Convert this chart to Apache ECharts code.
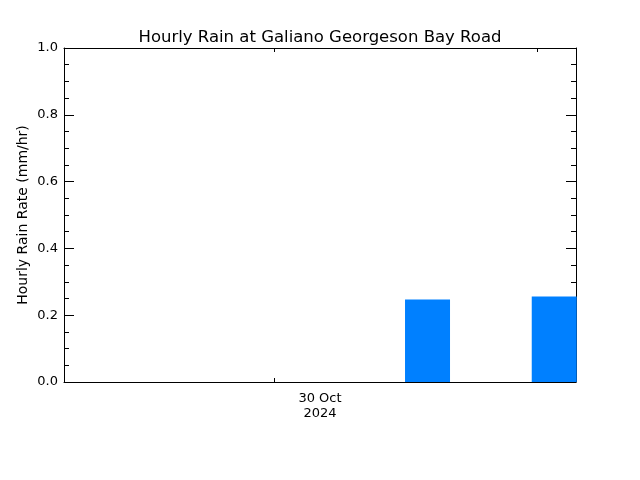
<!DOCTYPE html>
<html>
<head>
<meta charset="utf-8">
<script src="https://cdn.jsdelivr.net/npm/echarts@6/dist/echarts.min.js"></script>
<style>html,body{margin:0;padding:0;background:#fff}#c{width:640px;height:480px}</style>
</head>
<body>
<div id="c"></div>
<script>
// x in hours relative to 2024-10-30 00:00
const titleText = "Hourly Rain at Galiano Georgeson Bay Road";
const yName = "Hourly Rain Rate (mm/hr)";
const xRange = [-2.0, 2.0];
const barHours = [0.84, 1.83];
const rainValues = [0.247, 0.256];
const xTickHours = [-0.36, 1.70];
const xLabelHours = [0];
const xLabelText = "30 Oct\n2024";
const yTicks = [0, 0.2, 0.4, 0.6, 0.8, 1.0];

const font = "DejaVu Sans";
const chart = echarts.init(document.getElementById('c'), null, {renderer: 'canvas'});
const axisLine = {show: true, onZero: false, lineStyle: {color: '#000', width: 1}};
const xCommon = {
  type: 'value', min: xRange[0], max: xRange[1],
  axisLine: axisLine, splitLine: {show: false},
  axisTick: {show: true, inside: true, length: 4, customValues: xTickHours, lineStyle: {color: '#000'}},
  minorTick: {show: false}
};
const yCommon = {
  type: 'value', min: 0, max: 1, interval: 0.2,
  axisLine: axisLine, splitLine: {show: false},
  axisTick: {show: true, inside: true, length: 10, lineStyle: {color: '#000'}},
  minorTick: {show: true, splitNumber: 4, length: 5, lineStyle: {color: '#000'}},
  minorSplitLine: {show: false}
};
chart.setOption({
  animation: false,
  backgroundColor: '#fff',
  title: {text: titleText, left: 'center', top: 24,
    textStyle: {fontFamily: font, fontSize: 16.5, fontWeight: 'normal', color: '#000'}},
  grid: {left: 64, right: 64, top: 48, bottom: 98, containLabel: false},
  xAxis: [
    Object.assign({}, xCommon, {position: 'bottom',
      axisLabel: {show: true, customValues: xLabelHours, formatter: () => xLabelText,
        fontFamily: font, fontSize: 13, color: '#000', margin: 9, lineHeight: 15}}),
    Object.assign({}, xCommon, {position: 'top', axisLabel: {show: false}})
  ],
  yAxis: [
    Object.assign({}, yCommon, {position: 'left', name: yName, nameLocation: 'middle', nameGap: 34,
      nameMoveOverlap: false,
      nameTextStyle: {fontFamily: font, fontSize: 14, color: '#000'},
      axisLabel: {show: true, formatter: v => v.toFixed(1), fontFamily: font, fontSize: 13, color: '#000', margin: 6}}),
    Object.assign({}, yCommon, {position: 'right', axisLabel: {show: false}})
  ],
  series: [{
    type: 'bar', xAxisIndex: 0, yAxisIndex: 0,
    data: barHours.map((h, i) => [h, rainValues[i]]),
    barWidth: 45, clip: true,
    itemStyle: {color: '#0080ff'}
  }]
});
</script>
</body>
</html>
